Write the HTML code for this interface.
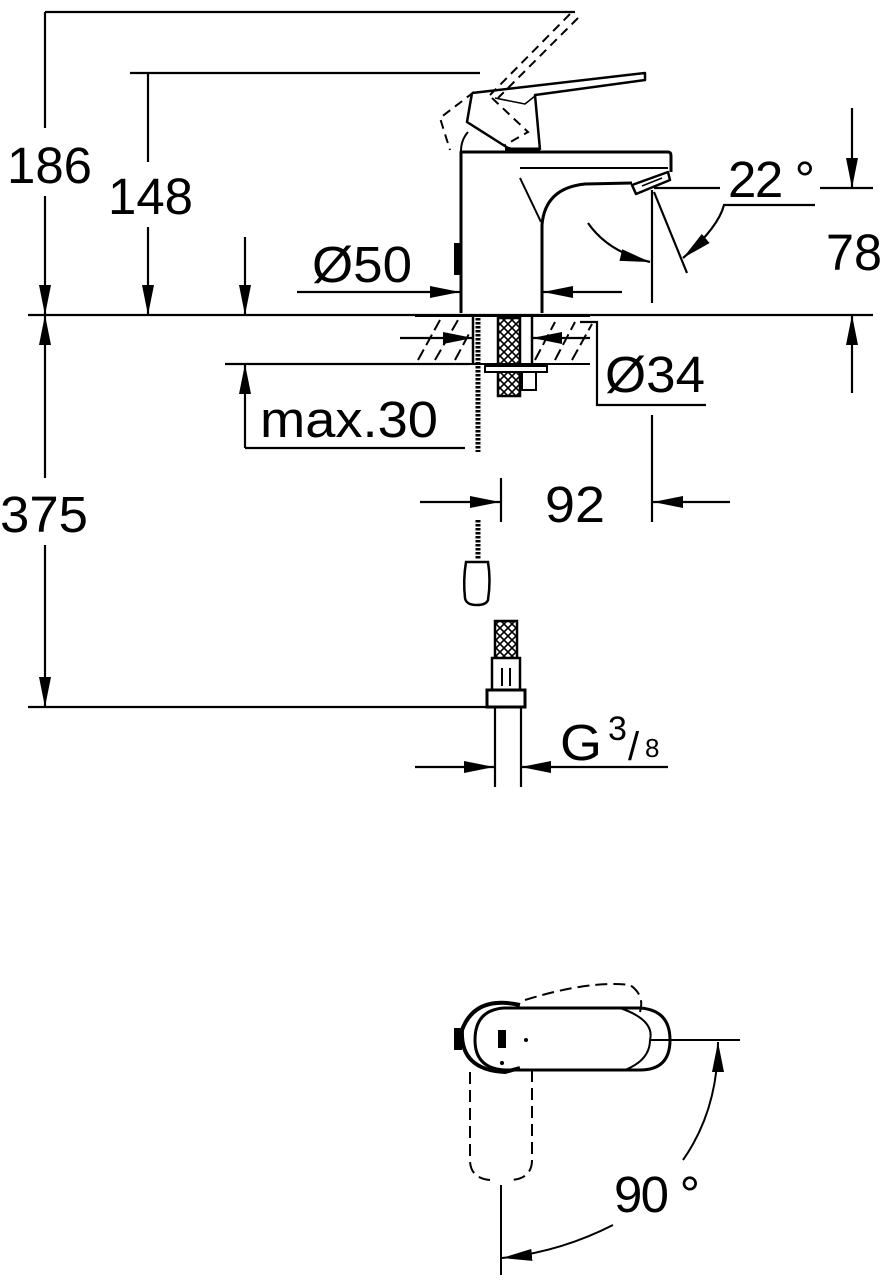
<!DOCTYPE html>
<html><head><meta charset="utf-8"><style>
html,body{margin:0;padding:0;background:#fff}
svg{display:block}
text{font-family:"Liberation Sans",Arial,sans-serif;fill:#000}
</style></head><body>
<svg width="886" height="1280" viewBox="0 0 886 1280" xmlns="http://www.w3.org/2000/svg">
<defs>
<marker id="a" viewBox="0 0 30 12" refX="30" refY="6" markerWidth="30" markerHeight="12" markerUnits="userSpaceOnUse" orient="auto"><path d="M0,0 L30,6 L0,12 z" fill="#000"/></marker>
<pattern id="mesh" width="8" height="8" patternUnits="userSpaceOnUse"><path d="M0,0 L8,8 M8,0 L0,8" stroke="#000" stroke-width="1.6"/></pattern>
</defs>
<g stroke="#000" stroke-width="2.2" fill="none">
<line x1="45" y1="12" x2="575" y2="12"/>
<line x1="45" y1="12" x2="45" y2="128"/>
<line x1="45" y1="196" x2="45" y2="315" marker-end="url(#a)"/>
<line x1="45" y1="478" x2="45" y2="315" marker-end="url(#a)" />
<line x1="130" y1="73" x2="480" y2="73"/>
<line x1="148" y1="73" x2="148" y2="162"/>
<line x1="148" y1="227" x2="148" y2="315" marker-end="url(#a)"/>
<line x1="245" y1="237" x2="245" y2="315" marker-end="url(#a)"/>
<line x1="28" y1="315" x2="873" y2="315"/>
<line x1="45" y1="545" x2="45" y2="707" marker-end="url(#a)"/>
<line x1="28" y1="707" x2="495" y2="707"/>
<line x1="297" y1="292" x2="460" y2="292" marker-end="url(#a)"/>
<line x1="622" y1="292" x2="543" y2="292" marker-end="url(#a)"/>
<line x1="225" y1="364" x2="470" y2="364"/>
<line x1="245" y1="448" x2="245" y2="364" marker-end="url(#a)"/>
<line x1="245" y1="448" x2="465" y2="448"/>
<line x1="400" y1="338" x2="473" y2="338" marker-end="url(#a)"/>
<line x1="590" y1="338" x2="532" y2="338" marker-end="url(#a)"/>
<polyline points="580,322 597,322 597,405 706,405"/>
<line x1="852" y1="108" x2="852" y2="188" marker-end="url(#a)"/>
<line x1="852" y1="393" x2="852" y2="315" marker-end="url(#a)"/>
<line x1="820" y1="188" x2="873" y2="188"/>
<line x1="654" y1="188" x2="720" y2="188"/>
<line x1="652" y1="190" x2="652" y2="303"/>
<line x1="654" y1="192" x2="687" y2="273"/>
<path d="M815,205 L724,205 Q718,228 683,258" marker-end="url(#a)"/>
<path d="M588,223 Q608,252 650,262" marker-end="url(#a)"/>
<line x1="420" y1="502" x2="500" y2="502" marker-end="url(#a)"/>
<line x1="730" y1="502" x2="653" y2="502" marker-end="url(#a)"/>
<line x1="501" y1="478" x2="501" y2="522"/>
<line x1="652" y1="415" x2="652" y2="522"/>
<line x1="415" y1="767" x2="494" y2="767" marker-end="url(#a)"/>
<line x1="668" y1="767" x2="521" y2="767" marker-end="url(#a)"/>
<line x1="495" y1="707" x2="495" y2="787"/>
<line x1="521" y1="707" x2="521" y2="787"/>
</g>
<g stroke="#000" stroke-width="3" fill="none" stroke-linejoin="round">
<path d="M461,313 L461,152 L668,152 Q671,152 671,156 L671,172"/>
<path d="M542,313 L542,225 Q545,188 585,184 L632,183"/>
<path d="M632,185 L668,172 L670,180 L636,194 Z" stroke-width="2.5"/>
<line x1="642" y1="186" x2="662" y2="178" stroke-width="1.5"/>
<line x1="520" y1="168" x2="668" y2="168" stroke-width="2"/>
<line x1="520" y1="178" x2="541" y2="222" stroke-width="2"/>
<path d="M472,93 L645,73 L645,80 L535,95 L540,150" stroke-width="2.5"/>
<path d="M472,93 L467,122 L508,148 L520,151" stroke-width="2.5"/>
<path d="M535,96 L525,104 L495,98" stroke-width="1.5"/>
<path d="M468,132 Q461,140 461,151" stroke-width="2"/>
<line x1="505" y1="150" x2="540" y2="150" stroke-width="5"/>
</g>
<path d="M454,243 L460,243 L460,275 L454,275 Z" fill="#000"/>
<g stroke="#000" stroke-width="2" fill="none" stroke-dasharray="9,6">
<path d="M570,14 L490,95"/><path d="M578,18 L498,98"/>
<path d="M474,92 L440,118 L450,150"/><path d="M492,98 L528,132 L505,145"/>
</g>
<g stroke="#000" stroke-width="2">
<line x1="415" y1="364" x2="590" y2="364"/>
<line x1="415" y1="316" x2="590" y2="316"/>
<g stroke-width="2" stroke-dasharray="12,5">
<path d="M418,360 L440,320 M435,360 L458,320 M455,360 L470,332 M535,360 L555,322 M555,360 L575,322 M572,360 L592,324"/>
</g>
</g>
<line x1="473" y1="315" x2="473" y2="364" stroke="#000" stroke-width="2.5"/>
<line x1="532" y1="315" x2="532" y2="364" stroke="#000" stroke-width="2.5"/>
<line x1="478" y1="318" x2="478" y2="452" stroke="#000" stroke-width="5" stroke-dasharray="2.5,1.5"/>
<line x1="478" y1="520" x2="478" y2="560" stroke="#000" stroke-width="5" stroke-dasharray="2.5,1.5"/>
<path d="M466,562 L488,562 Q491,580 488,600 Q486,605 477,605 Q466,605 465,598 Q463,580 466,562 Z" stroke="#000" stroke-width="2.5" fill="#fff"/>
<rect x="498" y="318" width="22" height="78" fill="url(#mesh)" stroke="#000" stroke-width="2.5"/>
<rect x="485" y="366" width="62" height="6" fill="#fff" stroke="#000" stroke-width="2"/>
<rect x="522" y="372" width="14" height="18" fill="#fff" stroke="#000" stroke-width="2"/>
<rect x="495" y="621" width="22" height="38" fill="url(#mesh)" stroke="#000" stroke-width="2.5"/>
<rect x="492" y="658" width="28" height="32" fill="#fff" stroke="#000" stroke-width="2.5"/>
<line x1="502" y1="668" x2="502" y2="686" stroke="#000" stroke-width="2"/><line x1="510" y1="668" x2="510" y2="686" stroke="#000" stroke-width="2"/>
<rect x="487" y="690" width="38" height="17" fill="#fff" stroke="#000" stroke-width="3"/>
<g stroke="#000" fill="none">
<path d="M520,1005 Q475,995 462,1030 Q460,1070 505,1072 L520,1068" stroke-width="4"/>
<path d="M504,1008 L640,1008 Q670,1010 670,1040 Q670,1070 640,1070 L504,1070 Q475,1068 475,1040 Q475,1010 504,1008 Z" stroke-width="3"/>
<path d="M620,1008 Q655,1020 650,1040 Q650,1060 625,1070" stroke-width="2"/>
<path d="M525,1000 Q590,980 630,985 Q645,995 640,1012" stroke-width="2" stroke-dasharray="12,6"/>
<path d="M470,1072 L470,1160 Q470,1178 490,1180 M532,1070 L532,1160 Q532,1178 512,1180" stroke-width="2" stroke-dasharray="12,6"/>
<line x1="650" y1="1040" x2="740" y2="1040" stroke-width="2"/>
<line x1="501" y1="1185" x2="501" y2="1275" stroke-width="2"/>
<path d="M683,1160 Q718,1110 718,1042" stroke-width="2" marker-end="url(#a)"/>
<path d="M613,1225 Q560,1252 502,1258" stroke-width="2" marker-end="url(#a)"/>
</g>
<rect x="454" y="1028" width="8" height="22" fill="#000"/>
<rect x="498" y="1030" width="8" height="18" fill="#000"/>
<circle cx="526" cy="1040" r="2" fill="#000"/>
<circle cx="502" cy="1063" r="2" fill="#000"/>
<g font-size="51">
<text x="7" y="183" textLength="85" lengthAdjust="spacingAndGlyphs">186</text>
<text x="108" y="214" textLength="85" lengthAdjust="spacingAndGlyphs">148</text>
<text x="312" y="282" textLength="100" lengthAdjust="spacingAndGlyphs">Ø50</text>
<text x="728" y="197" textLength="87" lengthAdjust="spacing">22 °</text>
<text x="826" y="270" textLength="56" lengthAdjust="spacingAndGlyphs">78</text>
<text x="605" y="392" textLength="100" lengthAdjust="spacingAndGlyphs">Ø34</text>
<text x="260" y="437" textLength="178" lengthAdjust="spacingAndGlyphs">max.30</text>
<text x="0" y="532" textLength="88" lengthAdjust="spacingAndGlyphs">375</text>
<text x="545" y="522" textLength="60" lengthAdjust="spacingAndGlyphs">92</text>
<text x="560" y="760" textLength="42" lengthAdjust="spacingAndGlyphs">G</text>
<text x="614" y="1212" textLength="86" lengthAdjust="spacing">90 °</text>
</g>
<text x="608" y="740" font-size="34">3</text>
<text x="628" y="760" font-size="40">/</text>
<text x="645" y="757" font-size="26">8</text>
</svg>
</body></html>
